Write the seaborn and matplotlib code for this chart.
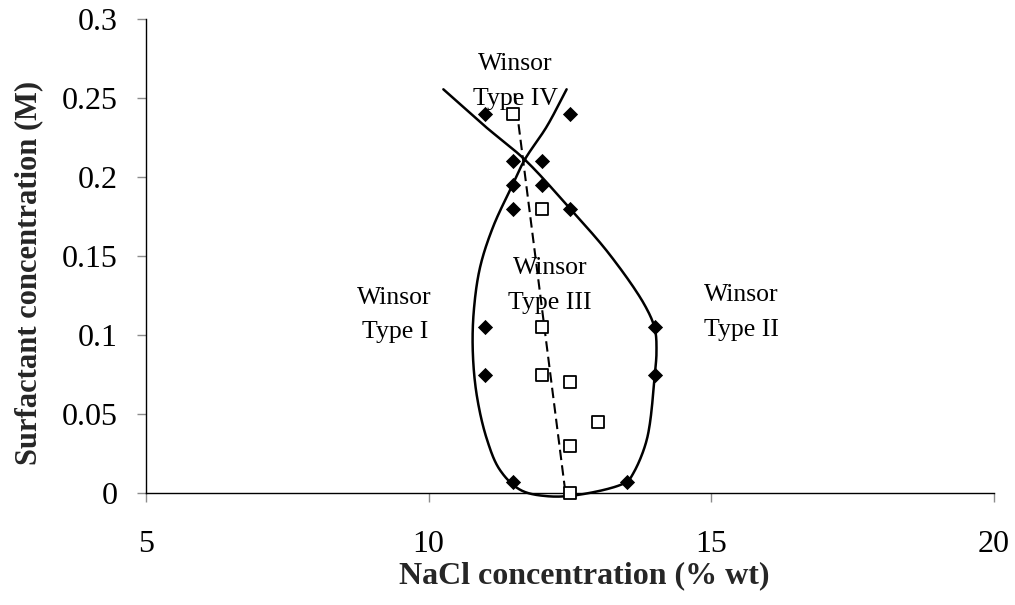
import numpy as np
import pandas as pd
import matplotlib
matplotlib.use("Agg")
import matplotlib.pyplot as plt
import seaborn as sns

# ---- data ----
diamond_x = [11.0, 12.5, 11.5, 12.0, 11.5, 12.0, 11.5, 12.5, 11.0, 14.0, 11.0, 14.0, 11.5, 13.5]
diamond_y = [0.24, 0.24, 0.21, 0.21, 0.195, 0.195, 0.18, 0.18, 0.105, 0.105, 0.075, 0.075, 0.007, 0.007]

square_x = [11.5, 12.0, 12.0, 12.0, 12.5, 13.0, 12.5, 12.5]
square_y = [0.24, 0.18, 0.105, 0.075, 0.07, 0.045, 0.03, 0.0]

# boundary curve control points (smoothed line, drawn in order)
curve_x = [10.26, 11.0, 11.70, 12.5, 13.2, 13.82, 14.0, 14.03, 14.0, 13.86, 13.62,
           13.5, 12.68, 12.09, 11.62, 11.26, 11.03, 10.85, 10.78, 10.80, 10.91, 11.14, 11.47,
           11.70, 12.09, 12.44]
curve_y = [0.2555, 0.232, 0.211, 0.18, 0.151, 0.119, 0.104, 0.09, 0.075, 0.034, 0.0125,
           0.007, -0.001, -0.002, 0.002, 0.0146, 0.034, 0.062, 0.09, 0.116, 0.143, 0.1685, 0.194,
           0.211, 0.232, 0.2555]

# dashed trend line endpoints
trend_x = [11.52, 12.42]
trend_y = [0.253, 0.0]

labels = ["Winsor\nType IV", "Winsor\nType I", "Winsor\nType III", "Winsor\nType II"]
label_x = [11.53, 9.40, 12.15, 15.53]
label_y = [0.2605, 0.1127, 0.1313, 0.1142]

xticks = [5, 10, 15, 20]
yticks = [0, 0.05, 0.1, 0.15, 0.2, 0.25, 0.3]
ytick_labels = ["0", "0.05", "0.1", "0.15", "0.2", "0.25", "0.3"]


def centripetal_cr(xs, ys, yscale=28.0, n=24):
    """Centripetal Catmull-Rom smoothing (like a spreadsheet 'smoothed line')."""
    p = np.column_stack([xs, np.asarray(ys) * yscale])
    p = np.vstack([2 * p[0] - p[1], p, 2 * p[-1] - p[-2]])
    out = []
    for i in range(1, len(p) - 2):
        P0, P1, P2, P3 = p[i - 1], p[i], p[i + 1], p[i + 2]
        t0 = 0.0
        t1 = t0 + np.linalg.norm(P1 - P0) ** 0.5
        t2 = t1 + np.linalg.norm(P2 - P1) ** 0.5
        t3 = t2 + np.linalg.norm(P3 - P2) ** 0.5
        t = np.linspace(t1, t2, n, endpoint=False)[:, None]
        A1 = (t1 - t) / (t1 - t0) * P0 + (t - t0) / (t1 - t0) * P1
        A2 = (t2 - t) / (t2 - t1) * P1 + (t - t1) / (t2 - t1) * P2
        A3 = (t3 - t) / (t3 - t2) * P2 + (t - t2) / (t3 - t2) * P3
        B1 = (t2 - t) / (t2 - t0) * A1 + (t - t0) / (t2 - t0) * A2
        B2 = (t3 - t) / (t3 - t1) * A2 + (t - t1) / (t3 - t1) * A3
        C = (t2 - t) / (t2 - t1) * B1 + (t - t1) / (t2 - t1) * B2
        out.append(C)
    out.append(p[-2][None, :])
    arr = np.vstack(out)
    return arr[:, 0], arr[:, 1] / yscale


sns.set_theme(style="white")
plt.rcParams["font.family"] = ["Liberation Serif", "DejaVu Serif"]

fig = plt.figure(figsize=(10.15, 6.05), dpi=100)
ax = fig.add_axes([146 / 1015, 1 - 493 / 605, (994 - 146) / 1015, (493 - 19) / 605])

sx, sy = centripetal_cr(curve_x, curve_y)
curve_df = pd.DataFrame({"x": sx, "y": sy})
sns.lineplot(data=curve_df, x="x", y="y", sort=False, estimator=None, color="black",
             linewidth=1.8, ax=ax, clip_on=False)

trend_df = pd.DataFrame({"x": trend_x, "y": trend_y})
sns.lineplot(data=trend_df, x="x", y="y", sort=False, estimator=None, color="black",
             linewidth=1.5, dashes=False, linestyle=(0, (5, 2.5)), ax=ax, clip_on=False)

d_df = pd.DataFrame({"x": diamond_x, "y": diamond_y})
sns.scatterplot(data=d_df, x="x", y="y", marker="D", s=60, color="black",
                edgecolor="black", linewidth=0, ax=ax, zorder=5, clip_on=False)
s_df = pd.DataFrame({"x": square_x, "y": square_y})
sns.scatterplot(data=s_df, x="x", y="y", marker="s", s=85, facecolor="white",
                edgecolor="black", linewidth=1.3, ax=ax, zorder=6, clip_on=False)

for t, lx, ly in zip(labels, label_x, label_y):
    ax.text(lx, ly, t, ha="center", va="center", fontsize=18.5, linespacing=1.75,
            color="black", zorder=2)

ax.set_xlim(5, 20)
ax.set_ylim(0, 0.3)
ax.set_xticks(xticks)
ax.set_xticklabels([str(v) for v in xticks])
ax.set_yticks(yticks)
ax.set_yticklabels(ytick_labels)
ax.tick_params(axis="both", direction="out", length=6.5, width=1, color="#8c8c8c",
               labelsize=23, colors="black", left=True, bottom=True)
ax.tick_params(axis="y", pad=14)
ax.tick_params(axis="x", pad=20)
for t in ax.get_xticklines() + ax.get_yticklines():
    t.set_markeredgecolor("#8c8c8c")

for side in ["top", "right"]:
    ax.spines[side].set_visible(False)
for side in ["left", "bottom"]:
    ax.spines[side].set_color("black")
    ax.spines[side].set_linewidth(1.0)

ax.set_xlabel("NaCl concentration (% wt)", fontsize=23, fontweight="bold")
ax.set_ylabel("Surfactant concentration (M)", fontsize=22, fontweight="bold")
ax.xaxis.set_label_coords((584 - 146) / (994 - 146), -(561 - 493) / (493 - 19))
ax.yaxis.set_label_coords(-(146 - 43) / (994 - 146), (493 - 273) / (493 - 19))
ax.patch.set_alpha(0)
ax.grid(False)

fig.savefig("out.png", dpi=100, facecolor="white")
